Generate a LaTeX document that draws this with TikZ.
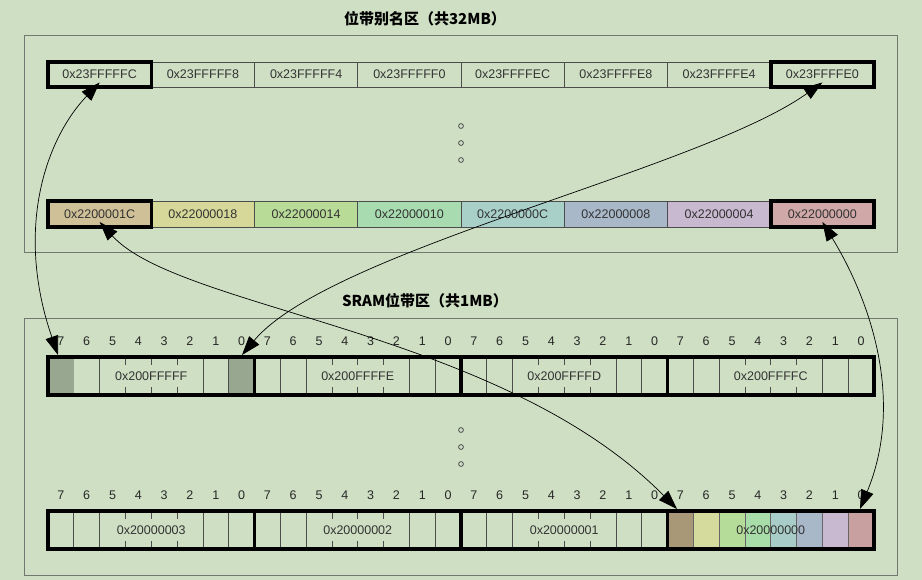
\documentclass[tikz,border=0pt]{standalone}
\usepackage{fontspec}
\setmainfont{Liberation Sans}
\newfontfamily\cjk{Noto Sans CJK SC}
\usetikzlibrary{arrows.meta}
\definecolor{bg}{HTML}{CFDFC3}
\definecolor{frm}{HTML}{707870}
\definecolor{a0}{HTML}{D0C098}\definecolor{a1}{HTML}{D5D898}\definecolor{a2}{HTML}{B8DC98}\definecolor{a3}{HTML}{A8DCB0}
\definecolor{a4}{HTML}{A8D0C8}\definecolor{a5}{HTML}{A8B8C8}\definecolor{a6}{HTML}{C8B8D0}\definecolor{a7}{HTML}{D0A8A8}
\definecolor{b0}{HTML}{A89878}\definecolor{b1}{HTML}{D5DB9C}\definecolor{b2}{HTML}{B5DC98}\definecolor{b3}{HTML}{A8DCA8}
\definecolor{b4}{HTML}{A8CCC8}\definecolor{b5}{HTML}{A8B8C8}\definecolor{b6}{HTML}{C8B8D0}\definecolor{b7}{HTML}{C8A0A0}
\definecolor{gr}{HTML}{98A890}
\begin{document}
\begin{tikzpicture}[x=1pt,y=-1pt,
  txt/.style={font=\fontsize{12.5}{14}\selectfont,text=black!80},
  bitn/.style={font=\fontsize{12.5}{14}\selectfont,text=black!85},
  cell/.style={draw=black!70,line width=0.7pt},
  thick box/.style={draw=black,line width=3.5pt},
  frame/.style={draw=frm,line width=0.8pt},
  ttl/.style={font=\cjk\bfseries\fontsize{15}{17}\selectfont},
  dotc/.style={draw=black!70,line width=0.8pt},
  arr/.style={line width=0.7pt,{Triangle[length=19pt,width=13pt]}-{Triangle[length=19pt,width=13pt]}}]
\fill[bg] (0,0) rectangle (922,580);
\useasboundingbox (0,0) rectangle (922,580);
\draw[frame] (24,35) rectangle (897,252);
\draw[frame] (24,318) rectangle (897,575);
\node[ttl] (t1) at (425,19) {位带别名区（共32MB）};
\node[ttl] (t2) at (425,301) {SRAM位带区（共1MB）};
\foreach \l [count=\i from 0] in {0x23FFFFFC,0x23FFFFF8,0x23FFFFF4,0x23FFFFF0,0x23FFFFEC,0x23FFFFE8,0x23FFFFE4,0x23FFFFE0}{
  \draw[cell] ({48+103.25*\i},62) rectangle ({48+103.25*(\i+1)},87);
  \node[txt] (u\i) at ({48+103.25*(\i+0.5)},74.5) {\l};
}
\foreach \l [count=\i from 0] in {0x2200001C,0x22000018,0x22000014,0x22000010,0x2200000C,0x22000008,0x22000004,0x22000000}{
  \draw[cell,fill=a\i] ({48+103.25*\i},201) rectangle ({48+103.25*(\i+1)},227);
  \node[txt] (w\i) at ({48+103.25*(\i+0.5)},214) {\l};
}
\draw[thick box] (48,62) rectangle (151.25,87);
\draw[thick box] (770.75,62) rectangle (874,87);
\draw[thick box] (48,201) rectangle (151.25,227);
\draw[thick box] (770.75,201) rectangle (874,227);
\foreach \y in {126,143,160,430,447,464} \draw[dotc] (461,\y) circle (2.4pt);
\def\bw{25.8125}
\foreach \ry/\lab [count=\r from 0] in {357/{0x200FFFFF,0x200FFFFE,0x200FFFFD,0x200FFFFC},511/{0x20000003,0x20000002,0x20000001,0x20000000}}{
  \foreach \l [count=\j from 0] in \lab {
    \pgfmathsetmacro\bx{48+206.5*\j}
    \foreach \k in {0,...,7}{
      \node[bitn] at ({\bx+\bw*(\k+0.5)},{\ry-16}) {\the\numexpr7-\k\relax};
    }
    \foreach \k in {1,2,6,7} \draw[cell] ({\bx+\bw*\k},\ry) -- ({\bx+\bw*\k},{\ry+38});
    \foreach \k in {3,4,5}{
      \draw[cell] ({\bx+\bw*\k},\ry) -- ({\bx+\bw*\k},{\ry+8});
      \draw[cell] ({\bx+\bw*\k},{\ry+30}) -- ({\bx+\bw*\k},{\ry+38});
    }
    \ifnum\r\j=13\else\node[txt] (l\r\j) at ({\bx+103.25},{\ry+19}) {\l};\fi
  }
}
\fill[gr] (48,357) rectangle (73.8,395);
\fill[gr] (228.7,357) rectangle (254.5,395);
\foreach \k in {0,...,7}{
  \fill[b\k] ({667.5+\bw*\k},511) rectangle ({667.5+\bw*(\k+1)},549);
  \draw[draw=black!60,line width=0.7pt] ({667.5+\bw*\k},511) rectangle ({667.5+\bw*(\k+1)},549);
}
\node[txt] (l13) at (770.75,530) {0x20000000};
\foreach \j in {0,1,2,3}{
  \draw[line width=3.5pt] ({48+206.5*\j},357) rectangle ({48+206.5*(\j+1)},395);
  \draw[line width=3.5pt] ({48+206.5*\j},511) rectangle ({48+206.5*(\j+1)},549);
}
\coordinate (p1) at (58,355);
\coordinate (p2) at (242,355);
\coordinate (p3) at (677,509);
\coordinate (p4) at (860,509);
\draw[arr] (p1) .. controls (15,230) and (45,140) .. (u0.south);
\draw[arr] (p2) .. controls (330,250) and (700,170) .. (u7.south);
\draw[arr] (p3) .. controls (500,330) and (180,310) .. (w0.south);
\draw[arr] (p4) .. controls (905,400) and (870,300) .. (w7.south);
\end{tikzpicture}
\end{document}
